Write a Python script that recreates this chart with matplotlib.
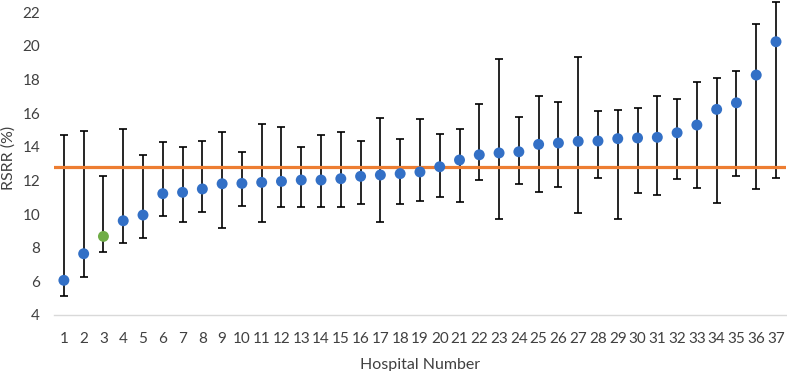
import numpy as np
import matplotlib
matplotlib.use('Agg')
import matplotlib.pyplot as plt

plt.rcParams['font.family'] = ['Lato', 'DejaVu Sans']

# hospital RSRR estimates with upper / lower interval bounds
hospitals = list(range(1, 38))
rsrr = [6.06, 7.64, 8.67, 9.6, 9.94, 11.21, 11.29, 11.49, 11.8, 11.82,
        11.88, 11.94, 12.02, 12.02, 12.1, 12.24, 12.32, 12.4, 12.5, 12.81,
        13.21, 13.52, 13.63, 13.7, 14.14, 14.22, 14.32, 14.34, 14.48, 14.52,
        14.56, 14.83, 15.29, 16.22, 16.61, 18.26, 20.24]
upper = [14.67, 14.91, 12.28, 15.03, 13.51, 14.3, 14.0, 14.32, 14.89, 13.7,
         15.35, 15.15, 14.0, 14.67, 14.85, 14.32, 15.72, 14.48, 15.66, 14.75,
         15.07, 16.52, 19.23, 15.75, 17.01, 16.67, 19.33, 16.14, 16.16, 16.28,
         17.0, 16.85, 17.86, 18.06, 18.5, 21.29, 22.6]
lower = [5.13, 6.24, 7.73, 8.3, 8.6, 9.86, 9.54, 10.12, 9.19, 10.49,
         9.54, 10.43, 10.4, 10.4, 10.43, 10.57, 9.51, 10.61, 10.79, 11.01,
         10.73, 12.04, 9.7, 11.76, 11.29, 11.59, 10.04, 12.16, 9.72, 11.25,
         11.13, 12.08, 11.57, 10.63, 12.28, 11.47, 12.12]
overall_mean = 12.8
highlight = 3  # hospital drawn in green

x = np.array(hospitals)
y = np.array(rsrr)
yerr = [y - np.array(lower), np.array(upper) - y]

fig = plt.figure(figsize=(7.87, 3.71), dpi=100)
ax = fig.add_axes([0.0686, 0.151, 0.930, 0.849])

ax.errorbar(x, y, yerr=yerr, fmt='none', ecolor='black', elinewidth=1.2,
            capsize=3, capthick=1.2, zorder=2)
ax.axhline(overall_mean, color='#ED7D31', lw=2.3, zorder=3)

colors = ['#70AD47' if h == highlight else '#3370C6' for h in hospitals]
ax.scatter(x, y, s=62, c=colors, zorder=4, linewidths=0)

ax.set_xlim(0.5, 37.5)
ax.set_ylim(4, 22.72)
ax.set_yticks(np.arange(4, 23, 2))
ax.set_xticks(x)
ax.set_xticklabels([str(h) for h in hospitals])

for s in ['top', 'right', 'left']:
    ax.spines[s].set_visible(False)
ax.spines['bottom'].set_color('#d9d9d9')
ax.spines['bottom'].set_linewidth(1)
ax.tick_params(axis='both', length=0, labelsize=11, colors='#404040')
ax.tick_params(axis='x', pad=12)
ax.tick_params(axis='y', pad=10)

ax.set_xlabel('Hospital Number', fontsize=11.5, color='#404040', labelpad=9)
ax.set_ylabel('RSRR (%)', fontsize=11.5, color='#404040', labelpad=5)

fig.savefig('out.png', dpi=100)
